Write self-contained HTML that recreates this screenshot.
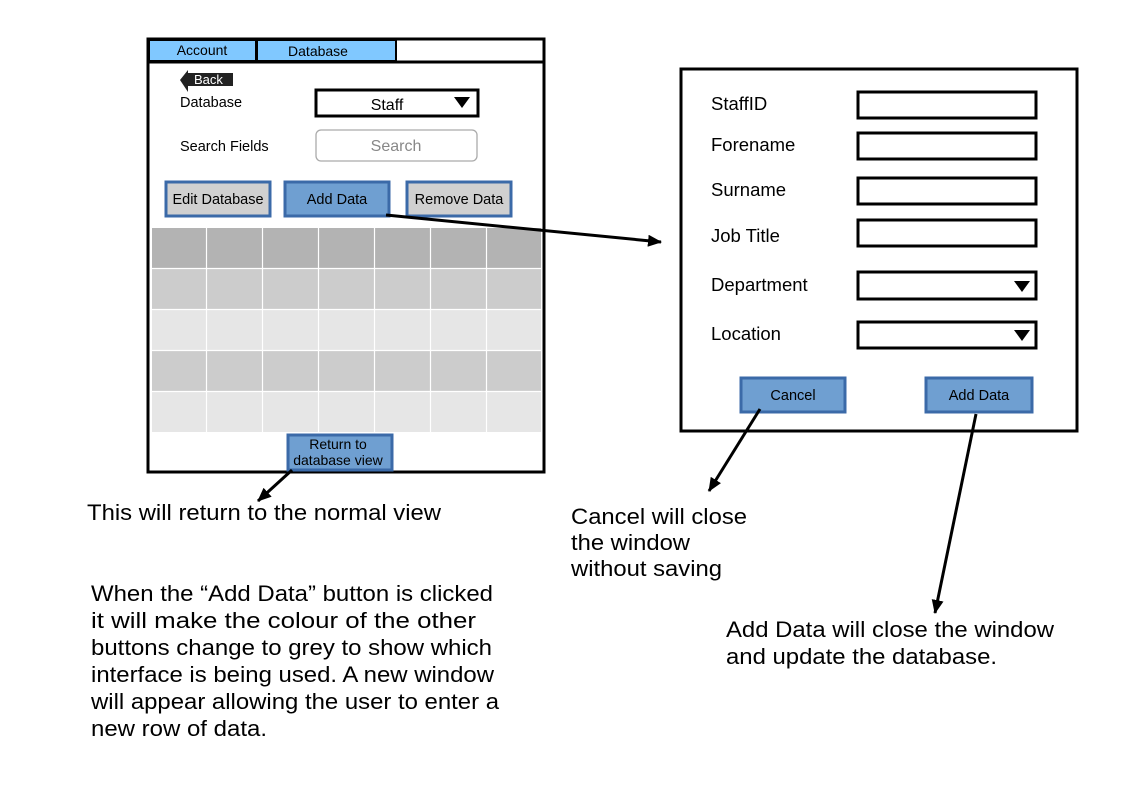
<!DOCTYPE html>
<html><head><style>body{margin:0;background:#fff}svg{display:block}</style></head><body>
<svg width="1123" height="794" xmlns="http://www.w3.org/2000/svg" font-family="Liberation Sans, sans-serif">
<defs><marker id="a" markerWidth="14" markerHeight="12" refX="13" refY="6" orient="auto" markerUnits="userSpaceOnUse"><path d="M0,0 L14,6 L0,12 z" fill="#000"/></marker></defs>
<rect x="148" y="39" width="396" height="433" fill="#fff" stroke="#000" stroke-width="3"/>
<rect x="149" y="40" width="107" height="21" fill="#80c8ff" stroke="#000" stroke-width="2"/>
<rect x="257" y="40" width="139" height="21" fill="#80c8ff" stroke="#000" stroke-width="2"/>
<line x1="148" y1="62" x2="544" y2="62" stroke="#000" stroke-width="3"/>
<text x="202" y="55" font-size="14" text-anchor="middle">Account</text>
<text x="318" y="56" font-size="14" text-anchor="middle">Database</text>
<path d="M180,80 L188,70 L188,73 L233,73 L233,86 L188,86 L188,92 z" fill="#222"/>
<text x="194" y="84" font-size="13" fill="#fff">Back</text>
<text x="180" y="107" font-size="14.5">Database</text>
<rect x="316" y="90" width="162" height="26" fill="#fff" stroke="#000" stroke-width="3"/>
<text x="387" y="110" font-size="16" text-anchor="middle">Staff</text>
<path d="M454,97 L470,97 L462,108 z" fill="#000"/>
<text x="180" y="151" font-size="14.5">Search Fields</text>
<rect x="316" y="130" width="161" height="31" rx="5" fill="#fff" stroke="#aaa" stroke-width="1.3"/>
<text x="396" y="151" font-size="16" fill="#888" text-anchor="middle">Search</text>
<rect x="166" y="182" width="104" height="34" fill="#d0d0d0" stroke="#3b6aa8" stroke-width="3"/>
<text x="218" y="204" font-size="14.5" text-anchor="middle">Edit Database</text>
<rect x="285" y="182" width="104" height="34" fill="#6f9fd1" stroke="#3b6aa8" stroke-width="3"/>
<text x="337" y="204" font-size="14.5" text-anchor="middle">Add Data</text>
<rect x="407" y="182" width="104" height="34" fill="#d0d0d0" stroke="#3b6aa8" stroke-width="3"/>
<text x="459" y="204" font-size="14.5" text-anchor="middle">Remove Data</text>
<g>
<rect x="152" y="228" width="389" height="40" fill="#b3b3b3"/>
<rect x="152" y="269" width="389" height="40" fill="#cccccc"/>
<rect x="152" y="310" width="389" height="40" fill="#e6e6e6"/>
<rect x="152" y="351" width="389" height="40" fill="#cccccc"/>
<rect x="152" y="392" width="389" height="40" fill="#e6e6e6"/>
<g stroke="#fff" stroke-width="1.2">
<line x1="152" y1="268.5" x2="541" y2="268.5"/><line x1="152" y1="309.5" x2="541" y2="309.5"/><line x1="152" y1="350.5" x2="541" y2="350.5"/><line x1="152" y1="391.5" x2="541" y2="391.5"/>
<line x1="206.5" y1="228" x2="206.5" y2="432"/><line x1="262.5" y1="228" x2="262.5" y2="432"/><line x1="318.5" y1="228" x2="318.5" y2="432"/><line x1="374.5" y1="228" x2="374.5" y2="432"/><line x1="430.5" y1="228" x2="430.5" y2="432"/><line x1="486.5" y1="228" x2="486.5" y2="432"/>
</g></g>
<rect x="288" y="435" width="104" height="35" fill="#6f9fd1" stroke="#3b6aa8" stroke-width="3"/>
<text x="338" y="449" font-size="14" text-anchor="middle">Return to</text>
<text x="338" y="465" font-size="14" text-anchor="middle">database view</text>
<rect x="681" y="69" width="396" height="362" fill="#fff" stroke="#000" stroke-width="3"/>
<g font-size="18.5">
<text x="711" y="110">StaffID</text><text x="711" y="151">Forename</text><text x="711" y="196">Surname</text><text x="711" y="242">Job Title</text><text x="711" y="291">Department</text><text x="711" y="340">Location</text>
</g>
<g fill="#fff" stroke="#000" stroke-width="3">
<rect x="858" y="92" width="178" height="26"/><rect x="858" y="133" width="178" height="26"/><rect x="858" y="178" width="178" height="26"/><rect x="858" y="220" width="178" height="26"/><rect x="858" y="272" width="178" height="27"/><rect x="858" y="322" width="178" height="26"/>
</g>
<path d="M1014,281 L1030,281 L1022,292 z" fill="#000"/>
<path d="M1014,330 L1030,330 L1022,341 z" fill="#000"/>
<rect x="741" y="378" width="104" height="34" fill="#6f9fd1" stroke="#3b6aa8" stroke-width="3"/>
<text x="793" y="400" font-size="14.5" text-anchor="middle">Cancel</text>
<rect x="926" y="378" width="106" height="34" fill="#6f9fd1" stroke="#3b6aa8" stroke-width="3"/>
<text x="979" y="400" font-size="14.5" text-anchor="middle">Add Data</text>
<g stroke="#000" stroke-width="3" fill="none" marker-end="url(#a)">
<line x1="386" y1="215" x2="661" y2="242"/>
<line x1="292" y1="470" x2="258" y2="501"/>
<line x1="760" y1="409" x2="709" y2="491"/>
<line x1="976" y1="414" x2="935" y2="613"/>
</g>
<g font-size="22" lengthAdjust="spacingAndGlyphs">
<text x="87" y="520" textLength="354" lengthAdjust="spacingAndGlyphs">This will return to the normal view</text>
<text x="571" y="524" textLength="176" lengthAdjust="spacingAndGlyphs">Cancel will close</text>
<text x="571" y="550" textLength="119" lengthAdjust="spacingAndGlyphs">the window</text>
<text x="571" y="576" textLength="151" lengthAdjust="spacingAndGlyphs">without saving</text>
<text x="726" y="637" textLength="328" lengthAdjust="spacingAndGlyphs">Add Data will close the window</text>
<text x="726" y="664" textLength="271" lengthAdjust="spacingAndGlyphs">and update the database.</text>
<text x="91" y="601" textLength="402" lengthAdjust="spacingAndGlyphs">When the “Add Data” button is clicked</text>
<text x="91" y="628" textLength="385" lengthAdjust="spacingAndGlyphs">it will make the colour of the other</text>
<text x="91" y="655" textLength="401" lengthAdjust="spacingAndGlyphs">buttons change to grey to show which</text>
<text x="91" y="682" textLength="403" lengthAdjust="spacingAndGlyphs">interface is being used. A new window</text>
<text x="91" y="709" textLength="408" lengthAdjust="spacingAndGlyphs">will appear allowing the user to enter a</text>
<text x="91" y="736" textLength="176" lengthAdjust="spacingAndGlyphs">new row of data.</text>
</g>
</svg>
</body></html>
